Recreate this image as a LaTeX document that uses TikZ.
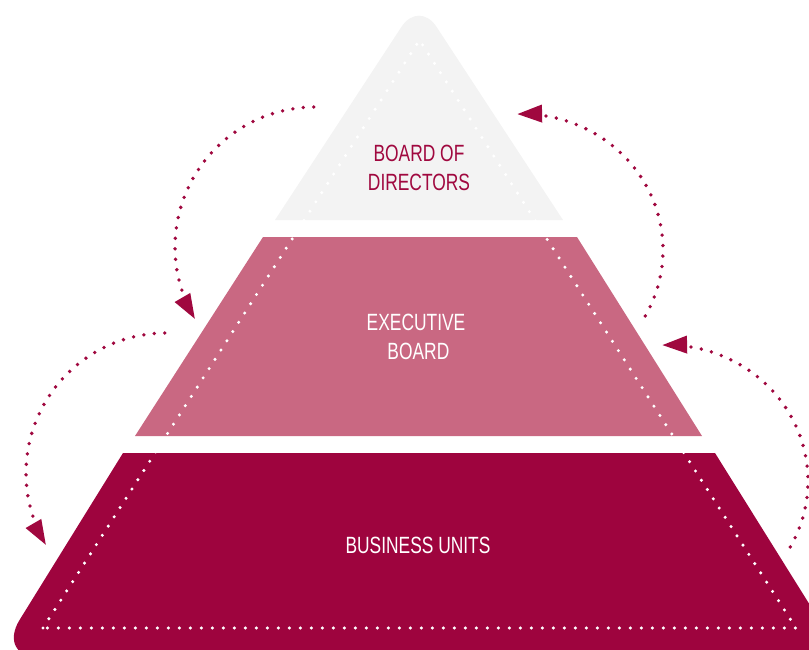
\documentclass[tikz,border=0pt]{standalone}
\usepackage{fontspec}
\setmainfont{Liberation Sans}[FakeStretch=0.74]
\usetikzlibrary{arrows.meta}

\definecolor{tierTop}{HTML}{F3F3F3}
\definecolor{tierMid}{HTML}{C96882}
\definecolor{tierBase}{HTML}{9E043E}
\definecolor{accent}{HTML}{A0083F}

\tikzset{
  flowdots/.style={draw=accent, line width=3.8pt, line cap=round,
    dash pattern=on 0pt off 10.5pt,
    -{Triangle[length=25pt,width=17pt,fill=accent]}},
  guidedots/.style={draw=white, line width=3.4pt, line cap=round,
    dash pattern=on 0pt off 11pt},
  tierlabel/.style={font=\fontsize{23.5}{29}\selectfont, align=center,
    text=white, inner sep=0pt}
}

\begin{document}
\begin{tikzpicture}[x=1pt, y=-1pt]
  \useasboundingbox (0,0) rectangle (809,650);
  \clip (0,0) rectangle (809,650);

  % pyramid tiers (top tier has a rounded apex only)
  \fill[tierTop] (275,220) -- (401.5,26.8)
    .. controls (411.2,12.0) and (426.8,12.0) .. (436.5,26.8)
    -- (563,220) -- cycle;
  \fill[tierMid] (263,237) -- (577,237) -- (702,436) -- (135,436) -- cycle;
  \fill[tierBase] (123,453) -- (715,453) [rounded corners=45pt] -- (843,658) -- (-4,658) [sharp corners] -- cycle;

  % inner dotted guide triangle
  \draw[guidedots] (43,628) -- (419.5,40) -- (796,628) -- cycle;

  % tier labels
  \node[tierlabel, text=accent] (board) at (419,168) {BOARD OF\\DIRECTORS};
  \node[tierlabel] (exec) at (416,337) {EXECUTIVE\\\ BOARD};
  \node[tierlabel] (units) at (418,545) {BUSINESS UNITS};

  % circulating flow arrows
  \draw[flowdots] plot[domain=269.5:149, samples=80, variable=\t]
    ({315+140*cos(\t)}, {247+140*sin(\t)});
  \draw[flowdots] plot[domain=29:-92, samples=80, variable=\t]
    ({522+141*cos(\t)}, {250+136*sin(\t)});
  \draw[flowdots] plot[domain=269.5:149, samples=80, variable=\t]
    ({166+140*cos(\t)}, {473+140*sin(\t)});
  \draw[flowdots] plot[domain=29:-92, samples=80, variable=\t]
    ({667+141*cos(\t)}, {481+136*sin(\t)});
\end{tikzpicture}
\end{document}
